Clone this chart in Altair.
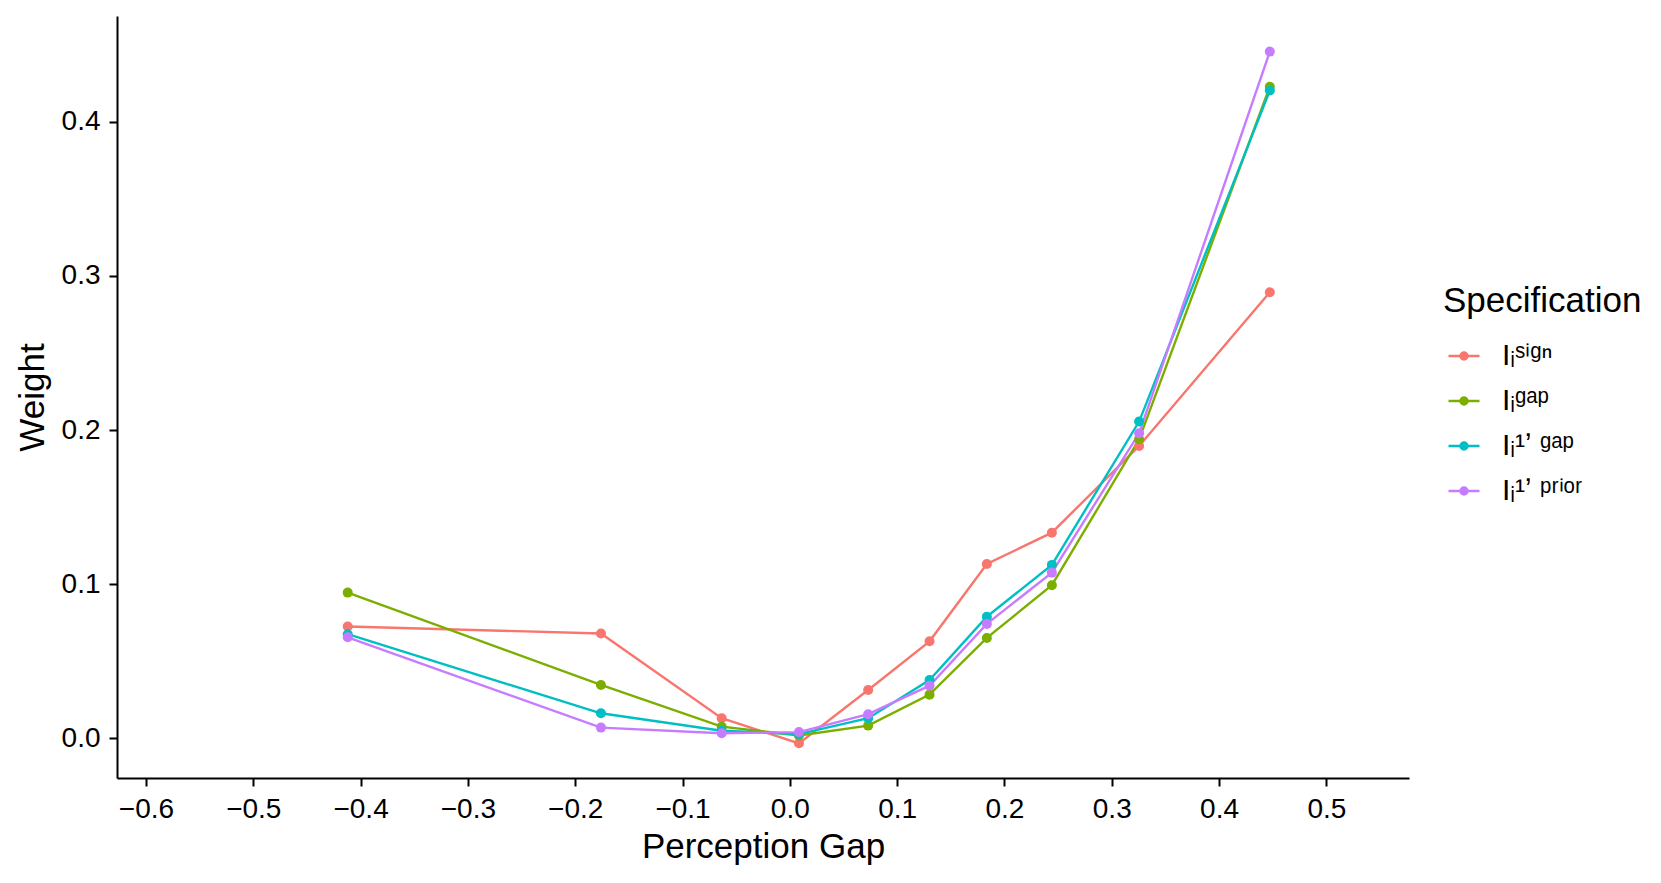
import altair as alt
import pandas as pd

# Perception gap (x) positions shared by all series
gap_x = [-0.412, -0.176, -0.0635, 0.0085, 0.073, 0.1302, 0.1836, 0.2442, 0.3255, 0.4473]

# Weights per specification
w_sign = [0.0725, 0.0680, 0.0130, -0.0033, 0.0313, 0.0629, 0.1131, 0.1334, 0.1897, 0.2894]
w_gap = [0.0945, 0.0346, 0.0075, 0.0018, 0.0082, 0.0283, 0.0651, 0.0993, 0.1940, 0.4228]
w_gap1 = [0.0675, 0.0162, 0.0049, 0.0027, 0.0130, 0.0378, 0.0789, 0.1125, 0.2055, 0.4203]
w_prior1 = [0.0655, 0.0069, 0.0032, 0.0040, 0.0156, 0.0341, 0.0742, 0.1075, 0.1979, 0.4456]

spec_labels = ["Iᵢˢⁱᵍⁿ", "Iᵢᵍᵃᵖ", "Iᵢ¹ʼ ᵍᵃᵖ", "Iᵢ¹ʼ ᵖʳⁱᵒʳ"]
spec_colors = ["#F8766D", "#7CAE00", "#00BFC4", "#C77CFF"]

x_ticks = [-0.6, -0.5, -0.4, -0.3, -0.2, -0.1, 0.0, 0.1, 0.2, 0.3, 0.4, 0.5]
y_ticks = [0.0, 0.1, 0.2, 0.3, 0.4]

rows = []
for lab, series in zip(spec_labels, [w_sign, w_gap, w_gap1, w_prior1]):
    for x, y in zip(gap_x, series):
        rows.append({"spec": lab, "gap": x, "weight": y})
df = pd.DataFrame(rows)

FONT = "Liberation Sans"

sym_path = ("M-1,0L1,0"
            "M0.226,0A0.226,0.226,0,1,1,-0.226,0A0.226,0.226,0,1,1,0.226,0"
            "M0.08,0A0.08,0.08,0,1,1,-0.08,0A0.08,0.08,0,1,1,0.08,0")

legend = alt.Legend(
    title="Specification",
    orient="none",
    legendX=1326,
    legendY=268,
    padding=0,
    titleFontSize=35,
    titleFontWeight="normal",
    titleColor="black",
    titleFont=FONT,
    titleLimit=400,
    titlePadding=20,
    labelFontSize=30,
    labelColor="black",
    labelFont=FONT,
    labelLimit=300,
    labelOffset=21,
    symbolType=sym_path,
    symbolSize=961,
    symbolStrokeWidth=2.4,
    symbolOffset=4,
    rowPadding=13,
)

x_enc = alt.X("gap:Q",
              scale=alt.Scale(domain=[-0.627, 0.577], nice=False, zero=False),
              axis=alt.Axis(values=x_ticks, format=".1f", title="Perception Gap"))
y_enc = alt.Y("weight:Q",
              scale=alt.Scale(domain=[-0.0258, 0.4687], nice=False, zero=False),
              axis=alt.Axis(values=y_ticks, format=".1f", title="Weight"))
color_enc = alt.Color("spec:N", sort=spec_labels,
                      scale=alt.Scale(domain=spec_labels, range=spec_colors),
                      legend=legend)

base = alt.Chart(df)
lines = base.mark_line(strokeWidth=2.4).encode(x=x_enc, y=y_enc, color=color_enc, order="gap:Q")
points = base.mark_point(filled=True, size=100, opacity=1).encode(x=x_enc, y=y_enc, color=color_enc)

chart = alt.layer(lines, points).properties(
    width=1292,
    height=762,
    padding={"left": 109, "top": 8, "right": 236, "bottom": 89},
    autosize=alt.AutoSizeParams(type="none"),
    background="white",
).configure_view(stroke=None).configure_axis(
    grid=False,
    domainColor="black",
    domainWidth=2,
    tickColor="black",
    tickWidth=2,
    tickSize=8,
    labelFontSize=28,
    labelColor="black",
    labelFont=FONT,
    labelPadding=9,
    titleFontSize=35,
    titleFontWeight="normal",
    titleColor="black",
    titleFont=FONT,
).configure_axisX(titlePadding=6).configure_axisY(titlePadding=11)

chart.save("out.html", embed_options={"renderer": "svg", "actions": False})
